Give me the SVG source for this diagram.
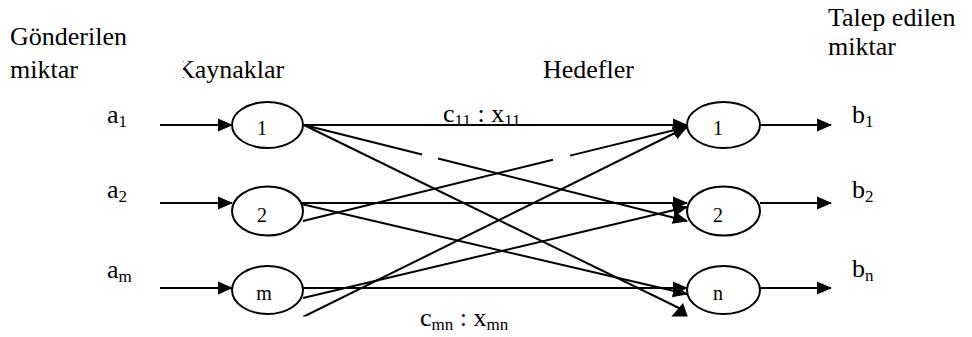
<svg xmlns="http://www.w3.org/2000/svg" width="972" height="337" viewBox="0 0 972 337" font-family="'Liberation Serif', 'Times New Roman', serif">
<style>
  text { font-family: "Liberation Serif", "Times New Roman", serif; fill: #000; }
  .t { font-size: 26px; }
  .sub { font-size: 17px; }
  .nl { font-size: 20px; text-anchor: middle; }
  .node { fill: #fff; stroke: #000; stroke-width: 2; }
  .c { stroke: #000; stroke-width: 2; fill: none; }
  .a { marker-end: url(#arr); }
</style>
<defs>
  <marker id="arr" markerUnits="userSpaceOnUse" markerWidth="16" markerHeight="14" refX="14" refY="7" orient="auto">
    <path d="M0,0.5 L15,7 L0,13.5 z" fill="#000"/>
  </marker>
  <clipPath id="kclip"><rect x="183" y="40" width="200" height="50"/></clipPath>
  <clipPath id="bclip"><rect x="0" y="0" width="972" height="316.5"/></clipPath>
</defs>
<rect width="972" height="337" fill="#fff"/>

<g id="headers">
  <text class="t" x="10" y="45">Gönderilen</text>
  <text class="t" x="10" y="78">miktar</text>
  <text class="t" x="176" y="78" clip-path="url(#kclip)">Kaynaklar</text>
  <text class="t" x="543" y="78">Hedefler</text>
  <text class="t" x="828" y="26">Talep edilen</text>
  <text class="t" x="828" y="55">miktar</text>
</g>

<g id="connectors" clip-path="url(#bclip)">
  <line class="c a" x1="160" y1="125" x2="232" y2="125"/>
  <line class="c a" x1="160" y1="203" x2="232" y2="203"/>
  <line class="c a" x1="160" y1="288" x2="232" y2="288"/>

  <line class="c a" x1="304" y1="125" x2="687" y2="125"/>
  <line class="c" x1="304" y1="125" x2="422" y2="154.5"/>
  <line class="c a" x1="438" y1="158.5" x2="687" y2="221"/>
  <line class="c" x1="304" y1="125" x2="682" y2="309.5"/>
  <polygon points="671,317 688,317 683,303" fill="#000"/>

  <line class="c" x1="303" y1="221" x2="553" y2="159.8"/>
  <line class="c a" x1="570" y1="155.6" x2="687" y2="127"/>
  <line class="c a" x1="297" y1="203" x2="687" y2="203"/>
  <line class="c a" x1="297" y1="203" x2="687" y2="294"/>

  <line class="c a" x1="303" y1="317" x2="687" y2="127"/>
  <line class="c a" x1="303" y1="298" x2="687" y2="207"/>
  <line class="c a" x1="303" y1="288" x2="687" y2="288"/>

  <line class="c a" x1="760" y1="125" x2="831" y2="125"/>
  <line class="c a" x1="760" y1="203" x2="831" y2="203"/>
  <line class="c a" x1="760" y1="288" x2="831" y2="288"/>
</g>

<g id="src1"><ellipse class="node" cx="267.5" cy="125" rx="35.5" ry="23"/><text class="nl" x="262" y="135">1</text></g>
<g id="src2"><ellipse class="node" cx="267.5" cy="211" rx="35.5" ry="24.5"/><text class="nl" x="262" y="222">2</text></g>
<g id="srcm"><ellipse class="node" cx="267.5" cy="290" rx="35.5" ry="24"/><text class="nl" x="264" y="300">m</text></g>
<g id="tgt1"><ellipse class="node" cx="723.5" cy="125" rx="36.5" ry="23"/><text class="nl" x="718" y="135">1</text></g>
<g id="tgt2"><ellipse class="node" cx="723.5" cy="211" rx="36.5" ry="24.5"/><text class="nl" x="718" y="222">2</text></g>
<g id="tgtn"><ellipse class="node" cx="723.5" cy="290" rx="36.5" ry="24"/><text class="nl" x="718" y="300">n</text></g>

<g id="labels">
  <text class="t" x="107" y="123">a<tspan class="sub" dy="4">1</tspan></text>
  <text class="t" x="107" y="198">a<tspan class="sub" dy="4">2</tspan></text>
  <text class="t" x="107" y="278">a<tspan class="sub" dy="4">m</tspan></text>
  <text class="t" x="852" y="123">b<tspan class="sub" dy="4">1</tspan></text>
  <text class="t" x="852" y="198">b<tspan class="sub" dy="4">2</tspan></text>
  <text class="t" x="852" y="277">b<tspan class="sub" dy="4">n</tspan></text>
  <text class="t" x="443" y="122">c<tspan class="sub" dy="4">11</tspan><tspan dy="-4"> : x</tspan><tspan class="sub" dy="4">11</tspan></text>
  <text class="t" x="420" y="326">c<tspan class="sub" dy="4">mn</tspan><tspan dy="-4"> : x</tspan><tspan class="sub" dy="4">mn</tspan></text>
</g>
</svg>
